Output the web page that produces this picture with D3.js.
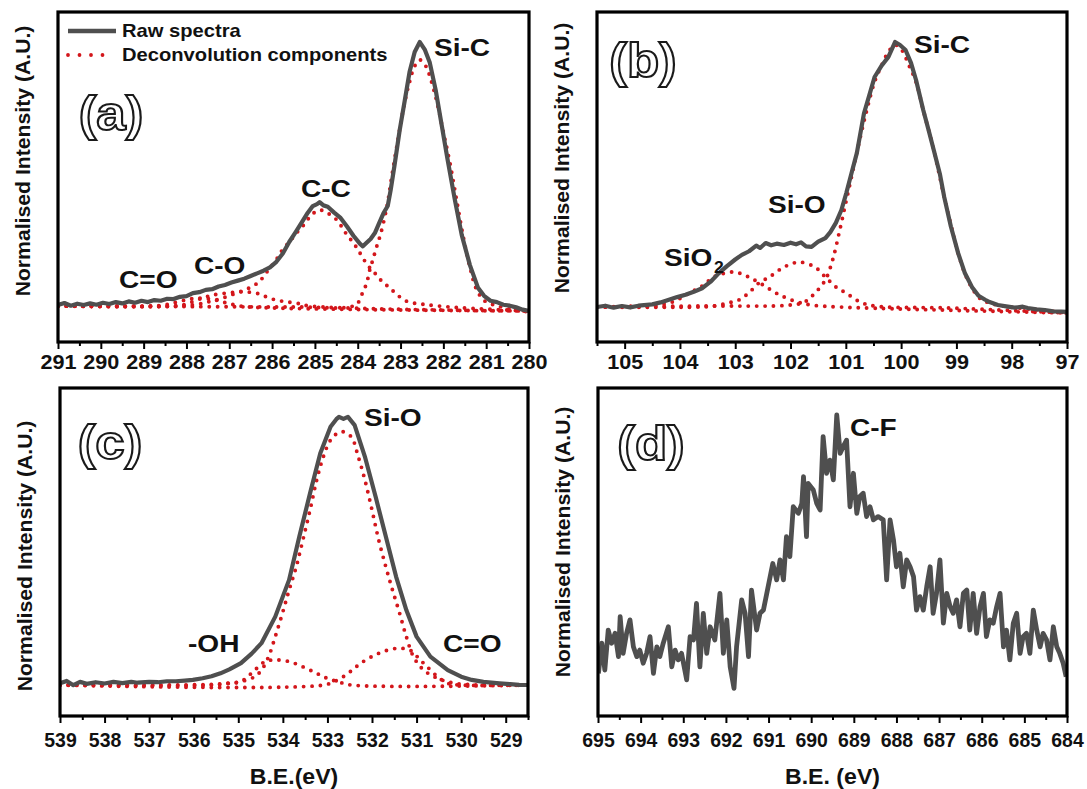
<!DOCTYPE html>
<html><head><meta charset="utf-8">
<script src="https://cdn.jsdelivr.net/npm/d3@7"></script>
<style>
body{margin:0;background:#fff}
text{font-family:"Liberation Sans",Arial,sans-serif;font-weight:bold;fill:#111}
</style>
</head><body>
<svg id="chart" width="1087" height="789"></svg>
<script>
// ---------------- DATA ----------------
// tick labels (eV)
const ticksA = [291,290,289,288,287,286,285,284,283,282,281,280];
const ticksB = [105,104,103,102,101,100,99,98,97];
const ticksC = [539,538,537,536,535,534,533,532,531,530,529];
const ticksD = [695,694,693,692,691,690,689,688,687,686,685,684];
const domainA = [291,280], domainB = [105.5,97], domainC = [539,528.5], domainD = [695,684];

// Panel (a) C 1s : [B.E. eV, normalised intensity]
const rawA = [[291.00,0.112],[290.85,0.118],[290.7,0.110],[290.55,0.116],[290.4,0.112],[290.25,0.117],[290.1,0.113],[289.95,0.119],[289.8,0.115],[289.65,0.121],[289.5,0.117],[289.35,0.123],[289.2,0.119],[289.05,0.125],[288.9,0.121],[288.75,0.127],[288.6,0.125],[288.45,0.131],[288.3,0.130],[288.15,0.137],[288.0,0.139],[287.85,0.148],[287.7,0.151],[287.55,0.158],[287.4,0.160],[287.25,0.168],[287.1,0.173],[286.95,0.180],[286.8,0.186],[286.65,0.192],[286.5,0.200],[286.35,0.208],[286.2,0.216],[286.05,0.226],[285.9,0.243],[285.75,0.268],[285.6,0.303],[285.45,0.333],[285.3,0.364],[285.17,0.391],[285.05,0.412],[284.95,0.418],[284.89,0.424],[284.8,0.414],[284.7,0.410],[284.55,0.392],[284.4,0.376],[284.25,0.350],[284.1,0.322],[283.95,0.298],[283.88,0.290],[283.8,0.300],[283.7,0.312],[283.6,0.330],[283.5,0.360],[283.4,0.390],[283.3,0.412],[283.23,0.461],[283.14,0.536],[283.02,0.642],[282.90,0.733],[282.79,0.818],[282.67,0.879],[282.55,0.909],[282.43,0.885],[282.32,0.848],[282.18,0.764],[282.04,0.658],[281.90,0.552],[281.73,0.430],[281.57,0.324],[281.38,0.233],[281.19,0.164],[281.05,0.140],[280.9,0.125],[280.75,0.121],[280.6,0.113],[280.45,0.110],[280.3,0.105],[280.15,0.098],[280.0,0.094]];
const sicA = [[291.00,0.109],[285.36,0.106],[284.19,0.106],[284.00,0.118],[283.89,0.148],[283.79,0.179],[283.72,0.218],[283.65,0.248],[283.56,0.288],[283.46,0.330],[283.32,0.409],[283.21,0.497],[283.07,0.606],[282.93,0.709],[282.79,0.788],[282.67,0.836],[282.55,0.855],[282.41,0.836],[282.29,0.794],[282.15,0.727],[282.01,0.642],[281.85,0.545],[281.69,0.430],[281.52,0.309],[281.38,0.227],[281.22,0.158],[281.03,0.124],[280.73,0.109],[280.33,0.097],[280.00,0.091]];
const ccA = [[291.00,0.109],[288.87,0.107],[287.86,0.112],[287.47,0.122],[287.16,0.133],[286.84,0.148],[286.53,0.164],[286.30,0.183],[286.14,0.209],[285.91,0.248],[285.76,0.279],[285.59,0.304],[285.43,0.330],[285.24,0.358],[285.08,0.385],[284.89,0.400],[284.71,0.391],[284.49,0.370],[284.28,0.330],[284.05,0.291],[283.77,0.233],[283.60,0.209],[283.42,0.182],[283.25,0.164],[283.07,0.142],[282.83,0.122],[282.50,0.115],[281.85,0.106],[280.00,0.094]];
const coA = [[291.00,0.109],[288.40,0.109],[288.10,0.112],[287.86,0.122],[287.63,0.133],[287.40,0.142],[287.08,0.148],[286.69,0.152],[286.37,0.148],[286.14,0.137],[285.91,0.127],[285.67,0.122],[285.44,0.118],[285.13,0.109],[280.00,0.094]];
const c2oA = [[291.00,0.109],[288.87,0.109],[288.52,0.112],[288.22,0.121],[287.93,0.130],[287.70,0.133],[287.42,0.130],[287.14,0.121],[286.86,0.112],[286.53,0.106],[280.00,0.094]];

// Panel (b) Si 2p
const rawB = [[105.5,0.106],[105.35,0.110],[105.2,0.104],[105.05,0.109],[104.9,0.105],[104.75,0.110],[104.65,0.112],[104.5,0.114],[104.35,0.120],[104.2,0.128],[104.05,0.136],[103.9,0.143],[103.75,0.152],[103.6,0.163],[103.45,0.182],[103.3,0.208],[103.15,0.230],[103.0,0.250],[102.88,0.264],[102.75,0.275],[102.62,0.292],[102.55,0.285],[102.45,0.300],[102.35,0.293],[102.25,0.298],[102.12,0.294],[102.0,0.301],[101.9,0.296],[101.81,0.302],[101.72,0.290],[101.62,0.288],[101.5,0.304],[101.37,0.315],[101.28,0.333],[101.18,0.361],[101.08,0.400],[100.99,0.452],[100.9,0.510],[100.80,0.573],[100.67,0.694],[100.58,0.745],[100.48,0.803],[100.35,0.838],[100.23,0.864],[100.11,0.909],[100.02,0.900],[99.92,0.885],[99.82,0.845],[99.73,0.794],[99.60,0.703],[99.5,0.640],[99.41,0.582],[99.3,0.510],[99.22,0.439],[99.1,0.350],[98.97,0.270],[98.85,0.210],[98.72,0.167],[98.6,0.140],[98.48,0.128],[98.4,0.121],[98.25,0.112],[98.1,0.108],[97.95,0.104],[97.8,0.107],[97.71,0.103],[97.55,0.099],[97.4,0.097],[97.25,0.093],[97.1,0.092],[97.0,0.091]];
const sicB = [[105.50,0.106],[103.64,0.109],[102.00,0.112],[101.75,0.121],[101.56,0.148],[101.37,0.188],[101.24,0.248],[101.11,0.339],[100.99,0.430],[100.87,0.521],[100.75,0.612],[100.62,0.703],[100.48,0.788],[100.35,0.839],[100.23,0.879],[100.11,0.900],[99.99,0.885],[99.86,0.839],[99.73,0.788],[99.60,0.703],[99.41,0.582],[99.22,0.439],[99.10,0.355],[98.97,0.270],[98.85,0.209],[98.72,0.164],[98.58,0.133],[98.40,0.118],[98.03,0.106],[97.49,0.097],[97.00,0.088]];
const sioB = [[105.50,0.106],[103.64,0.106],[103.39,0.109],[103.14,0.118],[102.94,0.127],[102.76,0.148],[102.57,0.179],[102.38,0.197],[102.12,0.227],[101.84,0.242],[101.56,0.227],[101.37,0.197],[101.18,0.167],[100.99,0.148],[100.74,0.121],[100.48,0.109],[99.12,0.103],[97.00,0.088]];
const sio2B = [[105.50,0.106],[104.73,0.109],[104.46,0.112],[104.14,0.121],[103.83,0.148],[103.57,0.173],[103.39,0.197],[103.03,0.212],[102.76,0.197],[102.50,0.173],[102.19,0.142],[101.87,0.121],[101.62,0.112],[101.11,0.106],[97.00,0.088]];

// Panel (c) O 1s
const rawC = [[539.0,0.0997],[538.85,0.107],[538.7,0.094],[538.55,0.104],[538.4,0.098],[538.2,0.103],[538.0,0.099],[537.8,0.104],[537.6,0.100],[537.4,0.104],[537.26,0.1015],[537.0,0.104],[536.8,0.103],[536.6,0.106],[536.4,0.106],[536.2,0.108],[536.02,0.110],[535.8,0.115],[535.6,0.121],[535.40,0.130],[535.2,0.142],[534.94,0.161],[534.7,0.190],[534.48,0.222],[534.17,0.303],[533.86,0.415],[533.63,0.547],[533.39,0.679],[533.16,0.801],[532.93,0.882],[532.8,0.905],[532.74,0.912],[532.64,0.906],[532.54,0.912],[532.39,0.887],[532.16,0.791],[531.92,0.669],[531.69,0.547],[531.46,0.425],[531.23,0.323],[531.00,0.242],[530.69,0.181],[530.30,0.140],[530.0,0.120],[529.76,0.110],[529.5,0.104],[529.14,0.0997],[528.9,0.097],[528.7,0.095],[528.52,0.0945]];
const sioC = [[539.00,0.0945],[536.49,0.0945],[535.40,0.0976],[534.94,0.105],[534.63,0.120],[534.48,0.140],[534.32,0.181],[534.17,0.242],[534.01,0.313],[533.86,0.384],[533.70,0.455],[533.55,0.537],[533.39,0.628],[533.24,0.720],[533.09,0.791],[532.93,0.841],[532.70,0.867],[532.47,0.852],[532.31,0.791],[532.16,0.720],[532.00,0.628],[531.85,0.537],[531.69,0.455],[531.54,0.384],[531.38,0.313],[531.23,0.242],[531.07,0.181],[530.84,0.140],[530.53,0.115],[530.15,0.0997],[529.53,0.0945],[528.51,0.0945]];
const ohC = [[539.00,0.0945],[535.56,0.0945],[535.25,0.0997],[534.94,0.105],[534.63,0.140],[534.40,0.166],[534.17,0.171],[533.86,0.166],[533.55,0.150],[533.24,0.130],[533.01,0.115],[532.77,0.105],[532.47,0.0945],[528.51,0.0945]];
const c2oC = [[539.00,0.0945],[533.09,0.0945],[532.77,0.110],[532.50,0.134],[532.24,0.162],[531.85,0.191],[531.46,0.206],[531.15,0.201],[530.92,0.171],[530.76,0.150],[530.53,0.120],[530.30,0.0997],[530.04,0.0945],[528.51,0.0945]];

// Panel (d) F 1s (raw only)
const rawD = [[694.99,0.130],[694.91,0.222],[694.84,0.140],[694.76,0.262],[694.68,0.222],[694.60,0.252],[694.52,0.181],[694.48,0.303],[694.41,0.191],[694.33,0.252],[694.25,0.293],[694.17,0.211],[694.09,0.181],[694.02,0.201],[693.94,0.161],[693.86,0.191],[693.78,0.242],[693.70,0.130],[693.62,0.211],[693.55,0.181],[693.47,0.222],[693.35,0.272],[693.27,0.150],[693.19,0.201],[693.12,0.171],[693.04,0.191],[692.92,0.110],[692.84,0.242],[692.76,0.232],[692.69,0.343],[692.61,0.150],[692.53,0.313],[692.45,0.191],[692.37,0.272],[692.26,0.232],[692.14,0.374],[692.06,0.191],[691.98,0.293],[691.90,0.150],[691.81,0.084],[691.75,0.211],[691.63,0.354],[691.55,0.313],[691.47,0.181],[691.40,0.384],[691.28,0.262],[691.20,0.313],[691.12,0.323],[691.01,0.394],[690.90,0.465],[690.81,0.415],[690.73,0.476],[690.65,0.415],[690.58,0.547],[690.50,0.486],[690.42,0.638],[690.30,0.618],[690.22,0.648],[690.18,0.730],[690.11,0.547],[690.07,0.709],[689.95,0.689],[689.87,0.648],[689.79,0.628],[689.72,0.852],[689.64,0.740],[689.56,0.780],[689.48,0.720],[689.40,0.918],[689.32,0.801],[689.25,0.821],[689.17,0.841],[689.09,0.638],[689.01,0.740],[688.93,0.618],[688.86,0.669],[688.78,0.679],[688.70,0.608],[688.62,0.638],[688.54,0.598],[688.43,0.608],[688.31,0.598],[688.23,0.415],[688.15,0.598],[688.07,0.537],[688.00,0.455],[687.92,0.496],[687.84,0.394],[687.76,0.476],[687.68,0.455],[687.60,0.425],[687.53,0.323],[687.45,0.364],[687.37,0.323],[687.29,0.394],[687.21,0.455],[687.14,0.313],[687.06,0.374],[686.98,0.476],[686.90,0.283],[686.82,0.374],[686.74,0.333],[686.67,0.313],[686.59,0.354],[686.51,0.272],[686.43,0.374],[686.35,0.384],[686.28,0.262],[686.20,0.374],[686.12,0.252],[686.04,0.333],[685.96,0.374],[685.89,0.242],[685.81,0.293],[685.73,0.283],[685.65,0.333],[685.57,0.374],[685.49,0.211],[685.42,0.262],[685.34,0.171],[685.26,0.283],[685.18,0.313],[685.10,0.191],[685.03,0.242],[684.95,0.252],[684.87,0.191],[684.79,0.323],[684.71,0.262],[684.63,0.211],[684.56,0.252],[684.48,0.232],[684.40,0.171],[684.32,0.272],[684.24,0.211],[684.17,0.191],[684.09,0.161],[684.02,0.120]];

// ---------------- DRAWING ----------------
const svg = d3.select("#chart");
const RAW = "#4f4f4f", RED = "#d3161b";

function txt(g, x, y, s, size, sx, anchor) {
  return g.append("text")
    .attr("transform", `translate(${x},${y}) scale(${sx},1)`)
    .attr("font-size", size)
    .attr("text-anchor", anchor || "start")
    .attr("dominant-baseline", "central")
    .text(s);
}

function panel(cfg) {
  const g = svg.append("g");
  const x = d3.scaleLinear().domain(cfg.domain).range([cfg.x0, cfg.x1]);
  const y = d3.scaleLinear().domain([0, 1]).range([cfg.y1, cfg.y0]);
  const id = "clip" + cfg.name;
  svg.append("clipPath").attr("id", id).append("rect")
    .attr("x", cfg.x0).attr("y", cfg.y0).attr("width", cfg.x1 - cfg.x0).attr("height", cfg.y1 - cfg.y0);
  const plot = g.append("g").attr("clip-path", `url(#${id})`);
  const smooth = d3.line().x(d => x(d[0])).y(d => y(d[1])).curve(d3.curveCatmullRom.alpha(0.5));
  const jag = d3.line().x(d => x(d[0])).y(d => y(d[1]));
  (cfg.comps || []).forEach(c => {
    plot.append("path").attr("d", smooth(c)).attr("fill", "none")
      .attr("stroke", RED).attr("stroke-width", 3.9).attr("stroke-linecap", "round")
      .attr("stroke-dasharray", "0 8.4");
  });
  plot.append("path").attr("d", jag(cfg.raw)).attr("fill", "none")
    .attr("stroke", RAW).attr("stroke-width", cfg.rawW || 4.2).attr("stroke-linejoin", "round");

  // minor ticks
  const [a, b] = cfg.domain;
  const minors = d3.range(Math.ceil(Math.min(a, b) * 2) / 2, Math.max(a, b) + 0.001, 0.5)
    .filter(v => Math.abs(v - Math.round(v)) > 0.1);
  const minorAxis = d3.axisBottom(x).tickValues(minors).tickSize(4).tickSizeOuter(0).tickFormat("");
  const mg = g.append("g").attr("transform", `translate(0,${cfg.y1})`).call(minorAxis);
  mg.select(".domain").remove();
  mg.selectAll("line").attr("stroke", "#000").attr("stroke-width", 2);

  const axis = d3.axisBottom(x).tickValues(cfg.ticks).tickSize(7).tickSizeOuter(0).tickFormat(d3.format("d"));
  const ag = g.append("g").attr("transform", `translate(0,${cfg.y1})`).call(axis);
  ag.select(".domain").remove();
  ag.selectAll("line").attr("stroke", "#000").attr("stroke-width", 2);
  ag.selectAll("text").attr("y", null).attr("dy", null)
    .attr("fill", "#111").attr("font-size", cfg.tickSize).attr("font-family", null)
    .attr("dominant-baseline", "central")
    .attr("transform", `translate(0,${cfg.tickDy}) scale(${cfg.tickSx},1)`);

  g.append("rect").attr("x", cfg.x0).attr("y", cfg.y0)
    .attr("width", cfg.x1 - cfg.x0).attr("height", cfg.y1 - cfg.y0)
    .attr("fill", "none").attr("stroke", "#000").attr("stroke-width", 3.2);

  // y title
  g.append("text")
    .attr("transform", `translate(${cfg.x0 - 35},${cfg.yTitleY}) rotate(-90) scale(1.06,1)`)
    .attr("font-size", 20).attr("text-anchor", "middle").attr("dominant-baseline", "central")
    .text("Normalised Intensity (A.U.)");

  // panel letter (outlined)
  g.append("text")
    .attr("transform", `translate(${cfg.lx},${cfg.ly}) scale(1.1,1)`)
    .attr("font-family", "'Open Sans','Noto Sans',sans-serif").attr("font-weight", 400)
    .attr("font-size", 48).attr("text-anchor", "middle").attr("dominant-baseline", "central")
    .style("fill", "#fff").attr("stroke", "#1a1a1a").attr("stroke-width", 2)
    .text(cfg.letter);

  (cfg.labels || []).forEach(l => txt(g, l[0], l[1], l[2], 24, 1.17));
  if (cfg.xTitle) txt(g, (cfg.x0 + cfg.x1) / 2, 777, cfg.xTitle, 22, 1.05, "middle");
  return g;
}

panel({name: "a", domain: domainA, ticks: ticksA, x0: 58, x1: 529, y0: 12, y1: 342,
  raw: rawA, comps: [c2oA, coA, ccA, sicA], tickSize: 20, tickSx: 1.08, tickDy: 20,
  yTitleY: 161, letter: "(a)", lx: 111, ly: 113,
  labels: [[434, 48, "Si-C"], [301, 189, "C-C"], [194, 266, "C-O"], [119, 280, "C=O"]]});

const gb = panel({name: "b", domain: domainB, ticks: ticksB, x0: 597, x1: 1067, y0: 12, y1: 342,
  raw: rawB, comps: [sio2B, sioB, sicB], tickSize: 20, tickSx: 1.08, tickDy: 20,
  yTitleY: 158, letter: "(b)", lx: 643, ly: 60,
  labels: [[914, 45, "Si-C"], [768, 205, "Si-O"], [664, 258, "SiO"]]});
txt(gb, 714, 268, "2", 16, 1.1);

panel({name: "c", domain: domainC, ticks: ticksC, x0: 60, x1: 528, y0: 388, y1: 716,
  raw: rawC, comps: [ohC, c2oC, sioC], tickSize: 20.5, tickSx: 0.95, tickDy: 24,
  yTitleY: 556, letter: "(c)", lx: 110, ly: 442, xTitle: "B.E.(eV)",
  labels: [[364, 418, "Si-O"], [188, 644, "-OH"], [443, 644, "C=O"]]});

panel({name: "d", domain: domainD, ticks: ticksD, x0: 598, x1: 1067, y0: 388, y1: 716,
  raw: rawD, comps: [], rawW: 4.8, tickSize: 20.5, tickSx: 0.95, tickDy: 24,
  yTitleY: 542, letter: "(d)", lx: 651, ly: 443, xTitle: "B.E. (eV)",
  labels: [[850, 428, "C-F"]]});

// legend (panel a)
const lg = svg.append("g");
lg.append("line").attr("x1", 68).attr("x2", 116).attr("y1", 31).attr("y2", 31)
  .attr("stroke", RAW).attr("stroke-width", 4.5);
lg.append("line").attr("x1", 68).attr("x2", 114).attr("y1", 55).attr("y2", 55)
  .attr("stroke", RED).attr("stroke-width", 3.8).attr("stroke-linecap", "round").attr("stroke-dasharray", "0 11.5");
txt(lg, 122, 31, "Raw spectra", 18, 1.12);
txt(lg, 122, 55, "Deconvolution components", 18, 1.12);
</script>
</body></html>
